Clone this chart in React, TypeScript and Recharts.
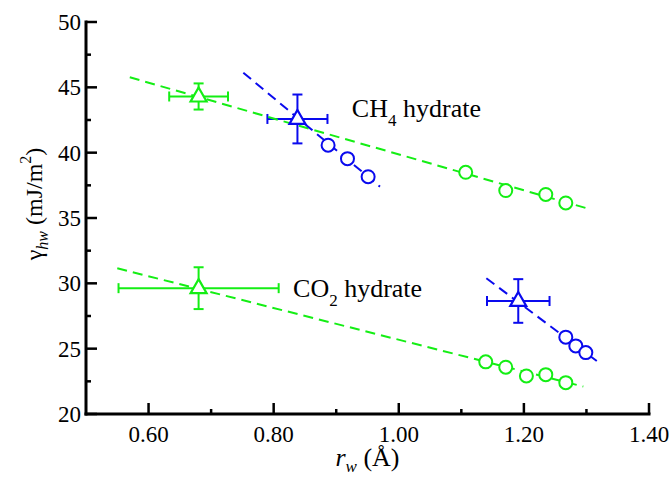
import React from 'react'
import { ScatterChart, Scatter, XAxis, YAxis, ErrorBar, ReferenceDot } from 'recharts'

const GREEN = '#14ee14'
const BLUE = '#0a0aee'
const FONT = 'Liberation Serif'

// axis ticks (major ones get a label)
const xTicks = [0.6, 0.7, 0.8, 0.9, 1.0, 1.1, 1.2, 1.3, 1.4]
const yTicks = [20, 22.5, 25, 27.5, 30, 32.5, 35, 37.5, 40, 42.5, 45, 47.5, 50]

// CH4 hydrate, green set
const ch4GreenX = [1.107, 1.171, 1.235, 1.267]
const ch4GreenY = [38.5, 37.1, 36.8, 36.15]
const ch4GreenTri = { x: 0.68, y: 44.3, ex: 0.047, ey: 1.0 }
const ch4GreenFitX = [0.57, 1.3]
const ch4GreenFitY = [45.77, 35.75]

// CH4 hydrate, blue set
const ch4BlueX = [0.887, 0.918, 0.951]
const ch4BlueY = [40.57, 39.54, 38.16]
const ch4BlueTri = { x: 0.838, y: 42.58, ex: 0.048, ey: 1.87 }
const ch4BlueFitX = [0.7515, 0.97]
const ch4BlueFitY = [46.12, 37.4]

// CO2 hydrate, green set
const co2GreenX = [1.139, 1.171, 1.204, 1.235, 1.267]
const co2GreenY = [23.99, 23.58, 22.91, 23.01, 22.4]
const co2GreenTri = { x: 0.68, y: 29.63, ex: 0.128, ey: 1.6 }
const co2GreenFitX = [0.55, 1.295]
const co2GreenFitY = [31.15, 22.1]

// CO2 hydrate, blue set
const co2BlueX = [1.267, 1.283, 1.299]
const co2BlueY = [25.88, 25.21, 24.7]
const co2BlueTri = { x: 1.191, y: 28.65, ex: 0.05, ey: 1.67 }
const co2BlueFitX = [1.14, 1.32]
const co2BlueFitY = [30.39, 23.93]

const zip = (xs: number[], ys: number[]) => xs.map((x, i) => ({ x, y: ys[i] }))

const circle = (color: string) => (p: any) => (
  <circle cx={p.cx} cy={p.cy} r={6.5} fill="#fff" stroke={color} strokeWidth={2} />
)

const triangle = (color: string) => (p: any) => (
  <path
    d={`M${p.cx},${p.cy - 9} L${p.cx + 8},${p.cy + 5} L${p.cx - 8},${p.cy + 5} Z`}
    fill="#fff"
    stroke={color}
    strokeWidth={2.2}
  />
)

const noShape = () => <g />

const isMajorX = (v: number) => Math.round(v * 10) % 2 === 0
const isMajorY = (v: number) => Math.round(v * 10) % 50 === 0

const xTick = (dir: number, showLabel: boolean) => (props: any) => {
  const { x, y, payload } = props
  const v = payload.value
  const len = isMajorX(v) ? 11 : 5
  return (
    <g>
      <line x1={x} x2={x} y1={y} y2={y + dir * len} stroke="#000" strokeWidth={2.5} />
      {showLabel && isMajorX(v) && (
        <text x={x} y={y + 28} textAnchor="middle" fontSize={23} fontFamily={FONT} fill="#000">
          {v.toFixed(2)}
        </text>
      )}
    </g>
  )
}

const yTick = (dir: number, showLabel: boolean) => (props: any) => {
  const { x, y, payload } = props
  const v = payload.value
  const len = isMajorY(v) ? 11 : 5
  return (
    <g>
      <line x1={x} x2={x + dir * len} y1={y} y2={y} stroke="#000" strokeWidth={2.5} />
      {showLabel && isMajorY(v) && (
        <text x={x - 5} y={y + 8} textAnchor="end" fontSize={23} fontFamily={FONT} fill="#000">
          {v}
        </text>
      )}
    </g>
  )
}

const axisLine = { stroke: '#000', strokeWidth: 3, strokeLinecap: 'square' as const }

const hydrateLabel = (prefix: string, sub: string) => (props: any) => {
  const { viewBox } = props
  return (
    <text x={viewBox.x} y={viewBox.y} fontSize={26} fontFamily={FONT} fill="#000">
      {prefix}
      <tspan dy={9} fontSize={17}>{sub}</tspan>
      <tspan dy={-9}> hydrate</tspan>
    </text>
  )
}

const fitLine = (color: string) => ({ stroke: color, strokeWidth: 2, strokeDasharray: '10 6' })

export default function App() {
  return (
    <div style={{ position: 'absolute', left: 0, top: 0, background: '#fff' }}>
      <ScatterChart width={671} height={488} margin={{ top: 22, right: 22, bottom: 0, left: 0 }}>
        <XAxis
          dataKey="x"
          type="number"
          domain={[0.5, 1.4]}
          ticks={xTicks}
          interval={0}
          allowDataOverflow
          height={74}
          tickSize={0}
          tickMargin={0}
          tickLine={false}
          axisLine={axisLine}
          tick={xTick(-1, true)}
          label={{
            content: (p: any) => {
              const vb = p.viewBox
              return (
                <text x={vb.x + vb.width / 2} y={vb.y + 52} textAnchor="middle" fontSize={26} fontFamily={FONT} fill="#000">
                  <tspan fontStyle="italic">r</tspan>
                  <tspan dy={6} fontSize={17} fontStyle="italic">w</tspan>
                  <tspan dy={-6}> (Å)</tspan>
                </text>
              )
            },
          }}
        />
        <XAxis
          xAxisId="top"
          orientation="top"
          type="number"
          domain={[0.5, 1.4]}
          ticks={xTicks}
          interval={0}
          allowDataOverflow
          height={0}
          tickSize={0}
          tickMargin={0}
          tickLine={false}
          axisLine={axisLine}
          tick={xTick(1, false)}
        />
        <YAxis
          dataKey="y"
          type="number"
          domain={[20, 50]}
          ticks={yTicks}
          interval={0}
          allowDataOverflow
          width={86}
          tickSize={0}
          tickMargin={0}
          tickLine={false}
          axisLine={axisLine}
          tick={yTick(1, true)}
          label={{
            content: (p: any) => {
              const vb = p.viewBox
              const cx = vb.x + 42
              const cy = vb.y + 182
              return (
                <text
                  x={cx}
                  y={cy}
                  transform={`rotate(-90, ${cx}, ${cy})`}
                  textAnchor="middle"
                  fontSize={24}
                  fontFamily={FONT}
                  fill="#000"
                >
                  γ
                  <tspan dy={6} fontSize={16} fontStyle="italic">hw</tspan>
                  <tspan dy={-6}> (mJ/m</tspan>
                  <tspan dy={-11} fontSize={16}>2</tspan>
                  <tspan dy={11}>)</tspan>
                </text>
              )
            },
          }}
        />
        <YAxis
          yAxisId="right"
          orientation="right"
          type="number"
          domain={[20, 50]}
          ticks={yTicks}
          interval={0}
          allowDataOverflow
          width={0}
          tickSize={0}
          tickMargin={0}
          tickLine={false}
          axisLine={axisLine}
          tick={yTick(-1, false)}
        />

        {/* dashed fits */}
        <Scatter data={zip(ch4GreenFitX, ch4GreenFitY)} line={fitLine(GREEN)} shape={noShape} isAnimationActive={false} />
        <Scatter data={zip(co2GreenFitX, co2GreenFitY)} line={fitLine(GREEN)} shape={noShape} isAnimationActive={false} />
        <Scatter data={zip(ch4BlueFitX, ch4BlueFitY)} line={fitLine(BLUE)} shape={noShape} isAnimationActive={false} />
        <Scatter data={zip(co2BlueFitX, co2BlueFitY)} line={fitLine(BLUE)} shape={noShape} isAnimationActive={false} />

        {/* triangles with error bars */}
        <Scatter data={[ch4GreenTri, co2GreenTri]} shape={triangle(GREEN)} isAnimationActive={false}>
          <ErrorBar dataKey="ex" direction="x" stroke={GREEN} strokeWidth={2} width={5} />
          <ErrorBar dataKey="ey" direction="y" stroke={GREEN} strokeWidth={2} width={5} />
        </Scatter>
        <Scatter data={[ch4BlueTri, co2BlueTri]} shape={triangle(BLUE)} isAnimationActive={false}>
          <ErrorBar dataKey="ex" direction="x" stroke={BLUE} strokeWidth={2} width={5} />
          <ErrorBar dataKey="ey" direction="y" stroke={BLUE} strokeWidth={2} width={5} />
        </Scatter>

        {/* simulation points */}
        <Scatter data={zip(ch4GreenX, ch4GreenY)} shape={circle(GREEN)} isAnimationActive={false} />
        <Scatter data={zip(co2GreenX, co2GreenY)} shape={circle(GREEN)} isAnimationActive={false} />
        <Scatter data={zip(ch4BlueX, ch4BlueY)} shape={circle(BLUE)} isAnimationActive={false} />
        <Scatter data={zip(co2BlueX, co2BlueY)} shape={circle(BLUE)} isAnimationActive={false} />

        <ReferenceDot x={0.925} y={42.75} r={0} fill="none" stroke="none" label={{ content: hydrateLabel('CH', '4') }} />
        <ReferenceDot x={0.831} y={28.94} r={0} fill="none" stroke="none" label={{ content: hydrateLabel('CO', '2') }} />
      </ScatterChart>
    </div>
  )
}
